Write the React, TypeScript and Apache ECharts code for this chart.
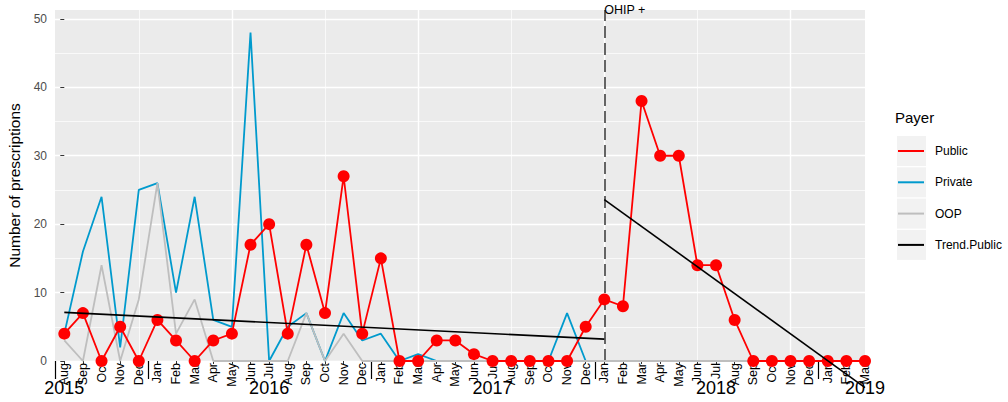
import React, { useEffect, useRef } from "react";
import * as echarts from "echarts";

// Monthly prescriptions by payer, Aug 2015 – Mar 2019
const monthLabels = [
  "Aug", "Sep", "Oct", "Nov", "Dec",
  "Jan", "Feb", "Mar", "Apr", "May", "Jun", "Jul", "Aug", "Sep", "Oct", "Nov", "Dec",
  "Jan", "Feb", "Mar", "Apr", "May", "Jun", "Jul", "Aug", "Sep", "Oct", "Nov", "Dec",
  "Jan", "Feb", "Mar", "Apr", "May", "Jun", "Jul", "Aug", "Sep", "Oct", "Nov", "Dec",
  "Jan", "Feb", "Mar",
];

const publicRx = [
  4, 7, 0, 5, 0,
  6, 3, 0, 3, 4, 17, 20, 4, 17, 7, 27, 4,
  15, 0, 0, 3, 3, 1, 0, 0, 0, 0, 0, 5,
  9, 8, 38, 30, 30, 14, 14, 6, 0, 0, 0, 0,
  0, 0, 0,
];

const privateRx = [
  4, 16, 24, 2, 25,
  26, 10, 24, 6, 5, 48, 0, 5, 7, 0, 7, 3,
  4, 0, 1, 0, 0, 0, 0, 0, 0, 0, 7, 0,
  0, 0, 0, 0, 0, 0, 0, 0, 0, 0, 0, 0,
  0, 0, 0,
];

const oopRx = [
  3, 0, 14, 0, 9,
  26, 4, 9, 0, 0, 0, 0, 0, 7, 0, 4, 0,
  0, 0, 0, 0, 0, 0, 0, 0, 0, 0, 0, 0,
  0, 0, 0, 0, 0, 0, 0, 0, 0, 0, 0, 0,
  0, 0, 0,
];

// Segmented trend of public prescriptions (before / after OHIP+)
const trendPreX = [0, 29];
const trendPreY = [7.1, 3.2];
const trendPostX = [29, 43];
const trendPostY = [23.6, -3.9];

// OHIP+ start (Jan 2018)
const ohipIndex = 29;

// Year labels and year boundaries on the month axis
const yearPos = [0, 11, 23, 35, 43];
const yearLabels = ["2015", "2016", "2017", "2018", "2019"];
const yearBreaks = [-0.5, 4.5, 16.5, 28.5, 40.5];

// Gridline positions
const yTicks = [0, 10, 20, 30, 40, 50];
const yMinorGrid = [5, 15, 25, 35, 45];
const xMajorGrid = [9, 19, 29, 39];
const xMinorGrid = [4, 14, 24, 34];

const legendNames = ["Public", "Private", "OOP", "Trend.Public"];

const FONT = '"Liberation Sans", Arial, Helvetica, sans-serif';
const RED = "#FF0000";
const BLUE = "#009ACD";
const GREY = "#BEBEBE";

const monthIdx = monthLabels.map((_, i) => i);
const toPairs = (xs: number[], ys: number[]) => ys.map((v, i) => [xs[i], v]);

const KEY_LEFT = 897;
const KEY_TOP = 136;
const KEY_STEP = 31.3;

function buildOption(): any {
  const grid = (v: number, w: number, axis: "xAxis" | "yAxis") => ({
    [axis]: v,
    lineStyle: { color: "#FFFFFF", width: w, type: "solid" },
  });

  const monthAxisBase = {
    type: "value",
    position: "bottom",
    min: -0.5,
    max: 43,
    axisLine: { show: false },
    splitLine: { show: false },
  };

  return {
    animation: false,
    textStyle: { fontFamily: FONT },
    grid: {
      left: 55,
      right: 143,
      top: 10,
      bottom: 41,
      show: true,
      backgroundColor: "#EBEBEB",
      borderWidth: 0,
      containLabel: false,
      outerBoundsMode: "none",
    },
    title: {
      text: "Payer",
      left: 895,
      top: 110,
      padding: 0,
      textStyle: { fontSize: 15, fontWeight: "normal", color: "#000", fontFamily: FONT },
    },
    legend: {
      orient: "vertical",
      left: KEY_LEFT + 1,
      top: KEY_TOP,
      padding: 0,
      itemWidth: 26,
      itemHeight: 2,
      itemGap: KEY_STEP - 30,
      icon: "rect",
      selectedMode: false,
      data: legendNames,
      textStyle: {
        fontSize: 12,
        color: "#000",
        lineHeight: 30,
        padding: [0, 0, 0, 6],
        fontFamily: FONT,
      },
    },
    graphic: legendNames.map((_, i) => ({
      type: "rect",
      left: KEY_LEFT,
      top: KEY_TOP + i * KEY_STEP,
      z: 0,
      silent: true,
      shape: { width: 29, height: 30 },
      style: { fill: "#F2F2F2" },
    })),
    xAxis: [
      {
        ...monthAxisBase,
        axisTick: {
          show: true,
          customValues: monthIdx,
          length: 3,
          lineStyle: { color: "#333333", width: 1 },
        },
        axisLabel: {
          customValues: monthIdx,
          formatter: (v: number) => monthLabels[Math.round(v)] ?? "",
          rotate: 90,
          fontSize: 12.5,
          color: "#000",
          margin: 2,
        },
      },
      {
        ...monthAxisBase,
        axisTick: { show: false },
        axisLabel: {
          customValues: yearPos,
          formatter: (v: number) => yearLabels[yearPos.indexOf(Math.round(v))] ?? "",
          fontSize: 18,
          color: "#000",
          margin: 18,
        },
      },
      {
        ...monthAxisBase,
        axisLabel: { show: false },
        axisTick: {
          show: true,
          customValues: yearBreaks,
          length: 18,
          lineStyle: { color: "#000", width: 1.2 },
        },
      },
    ],
    yAxis: {
      type: "value",
      min: 0,
      max: 51.3,
      interval: 10,
      axisLine: { show: false },
      axisTick: {
        show: true,
        length: 4,
        customValues: yTicks,
        lineStyle: { color: "#333333" },
      },
      axisLabel: {
        customValues: yTicks,
        color: "#4D4D4D",
        fontSize: 12,
        margin: 8,
      },
      splitLine: { show: true, lineStyle: { color: "#FFFFFF", width: 1.4 } },
      name: "Number of prescriptions",
      nameLocation: "middle",
      nameGap: 32,
      nameTextStyle: { fontSize: 15.5, color: "#000" },
    },
    series: [
      {
        name: "gridlines",
        type: "line",
        data: [],
        silent: true,
        markLine: {
          silent: true,
          z: 1,
          symbol: ["none", "none"],
          label: { show: false },
          emphasis: { disabled: true },
          data: [
            ...xMajorGrid.map((v) => grid(v, 1.4, "xAxis")),
            ...xMinorGrid.map((v) => grid(v, 0.7, "xAxis")),
            ...yMinorGrid.map((v) => grid(v, 0.7, "yAxis")),
          ],
        },
      },
      {
        name: "Private",
        type: "line",
        z: 2,
        data: toPairs(monthIdx, privateRx),
        symbol: "none",
        color: BLUE,
        lineStyle: { color: BLUE, width: 1.8 },
      },
      {
        name: "OOP",
        type: "line",
        z: 2,
        data: toPairs(monthIdx, oopRx),
        symbol: "none",
        color: GREY,
        lineStyle: { color: GREY, width: 1.8 },
      },
      {
        name: "Public",
        type: "line",
        z: 3,
        data: toPairs(monthIdx, publicRx),
        symbol: "circle",
        symbolSize: 12,
        showAllSymbol: true,
        color: RED,
        itemStyle: { color: RED },
        lineStyle: { color: RED, width: 1.8 },
        markLine: {
          silent: true,
          z: 2,
          symbol: ["none", "none"],
          emphasis: { disabled: true },
          lineStyle: { color: "#555555", width: 1.8, type: [12, 5] },
          label: {
            show: true,
            position: "end",
            formatter: "OHIP +",
            align: "left",
            verticalAlign: "middle",
            distance: 0,
            color: "#000",
            fontSize: 12.5,
            fontFamily: FONT,
          },
          data: [{ xAxis: ohipIndex }],
        },
      },
      {
        name: "Trend.Public",
        type: "line",
        z: 4,
        clip: false,
        data: toPairs(trendPreX, trendPreY),
        symbol: "none",
        color: "#000",
        lineStyle: { color: "#000", width: 1.6 },
      },
      {
        name: "Trend.Public",
        type: "line",
        z: 4,
        clip: false,
        data: toPairs(trendPostX, trendPostY),
        symbol: "none",
        color: "#000",
        lineStyle: { color: "#000", width: 1.6 },
      },
    ],
  };
}

export default function App() {
  const ref = useRef<HTMLDivElement>(null);
  useEffect(() => {
    if (!ref.current) return;
    const chart = echarts.init(ref.current, null, { renderer: "svg" });
    chart.setOption(buildOption());
    return () => chart.dispose();
  }, []);
  return (
    <div
      ref={ref}
      style={{
        position: "fixed",
        left: 0,
        top: 0,
        width: 1008,
        height: 402,
        background: "#FFFFFF",
      }}
    />
  );
}
